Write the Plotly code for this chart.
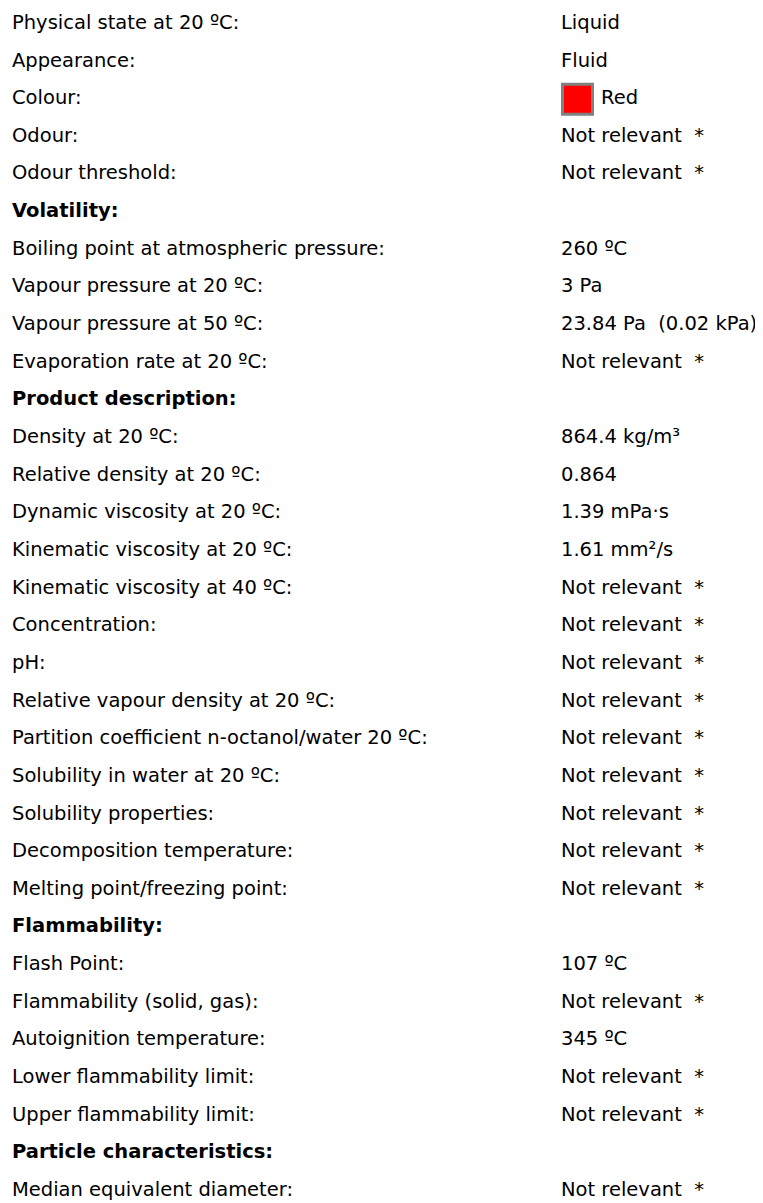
import plotly.graph_objects as go

# ---- data ----
labels = [
    "Physical state at 20 ºC:",
    "Appearance:",
    "Colour:",
    "Odour:",
    "Odour threshold:",
    "Volatility:",
    "Boiling point at atmospheric pressure:",
    "Vapour pressure at 20 ºC:",
    "Vapour pressure at 50 ºC:",
    "Evaporation rate at 20 ºC:",
    "Product description:",
    "Density at 20 ºC:",
    "Relative density at 20 ºC:",
    "Dynamic viscosity at 20 ºC:",
    "Kinematic viscosity at 20 ºC:",
    "Kinematic viscosity at 40 ºC:",
    "Concentration:",
    "pH:",
    "Relative vapour density at 20 ºC:",
    "Partition coefficient n-octanol/water 20 ºC:",
    "Solubility in water at 20 ºC:",
    "Solubility properties:",
    "Decomposition temperature:",
    "Melting point/freezing point:",
    "Flammability:",
    "Flash Point:",
    "Flammability (solid, gas):",
    "Autoignition temperature:",
    "Lower flammability limit:",
    "Upper flammability limit:",
    "Particle characteristics:",
    "Median equivalent diameter:",
]
NR = "Not relevant\u00a0\u00a0*"
values = [
    "Liquid", "Fluid", "Red", NR, NR,
    "",
    "260 ºC", "3 Pa", "23.84 Pa\u00a0\u00a0(0.02 kPa)", NR,
    "",
    "864.4 kg/m³", "0.864", "1.39 mPa·s", "1.61 mm²/s", NR, NR, NR, NR, NR, NR, NR, NR, NR,
    "",
    "107 ºC", NR, "345 ºC", NR, NR,
    "",
    NR,
]
headers = ["Volatility:", "Product description:", "Flammability:", "Particle characteristics:"]
colour_label = "Colour:"
colour_value = "red"

# ---- layout constants (page pixels) ----
W, H = 763, 1203
BODY = 8            # default page margin around the plot div
FONT = "DejaVu Sans, sans-serif"
FS = 19.5
ROW0 = 24.0         # page-pixel centre of first row
ROWH = 37.65        # row pitch
LABEL_X = 12
VALUE_X = 561
SWATCH_OUT = 33
SWATCH_LINE = 3
RED_X = 601

rows = list(range(len(labels)))
label_text = [f"<b>{l}</b>" if l in headers else l for l in labels]
ci = labels.index(colour_label)
value_x = [RED_X if i == ci else VALUE_X for i in rows]

fig = go.Figure()
fig.add_trace(go.Scatter(
    x=[LABEL_X] * len(rows), y=rows, mode="text", text=label_text,
    textposition="middle right", textfont=dict(family=FONT, size=FS, color="#000"),
    hoverinfo="skip", showlegend=False))
fig.add_trace(go.Scatter(
    x=value_x, y=rows, mode="text", text=values,
    textposition="middle right", textfont=dict(family=FONT, size=FS, color="#000"),
    hoverinfo="skip", showlegend=False))
fig.add_trace(go.Scatter(
    x=[VALUE_X + SWATCH_OUT / 2], y=[ci], mode="markers",
    marker=dict(symbol="square", size=SWATCH_OUT - SWATCH_LINE, color=colour_value,
                line=dict(color="#808080", width=SWATCH_LINE)),
    hoverinfo="skip", showlegend=False))

y_top = (BODY - ROW0) / ROWH
y_bot = (H - ROW0) / ROWH
fig.update_layout(
    width=W - BODY, height=H - BODY, margin=dict(l=0, r=0, t=0, b=0),
    paper_bgcolor="white", plot_bgcolor="white",
    xaxis=dict(range=[BODY, W], visible=False, fixedrange=True),
    yaxis=dict(range=[y_bot, y_top], visible=False, fixedrange=True),
)
fig.write_html("out.html")
